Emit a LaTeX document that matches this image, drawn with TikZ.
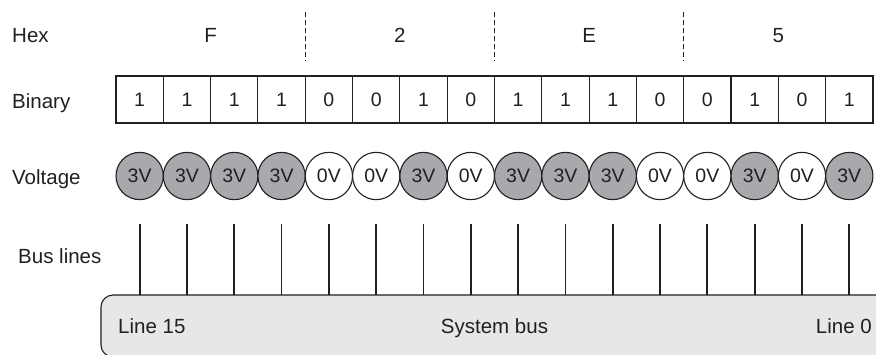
\documentclass[tikz,border=0pt]{standalone}
\usepackage{fontspec}
\setmainfont{Liberation Sans}
\definecolor{ink}{HTML}{231F20}
\definecolor{highgrey}{HTML}{A7A9AC}
\definecolor{busgrey}{HTML}{E6E7E8}
\colorlet{level1}{highgrey}
\colorlet{level0}{white}
\begin{document}
\begin{tikzpicture}[x=1pt,y=-1pt,
  lbl/.style={font=\fontsize{20.5}{24}\selectfont, text=ink, inner sep=0pt},
  cell/.style={draw=ink, line width=1.1pt, minimum width=47.31pt, minimum height=47pt,
    inner sep=0pt, font=\fontsize{19.5}{23}\selectfont, text=ink},
  volt/.style={circle, draw=ink, line width=1.1pt, minimum size=47.3pt, inner sep=0pt,
    font=\fontsize{19.5}{23}\selectfont, text=ink},
  busline/.style={draw=ink, line width=1.8pt},
  divider/.style={draw=ink, line width=1pt, dash pattern=on 5pt off 3pt},
  busbox/.style={fill=busgrey, draw=ink, line width=1.1pt, rounded corners=12pt}
]
\clip (0,0) rectangle (876,354);

% row labels
\node[lbl, anchor=base west] (hex) at (12,42) {Hex};
\node[lbl, anchor=base west] (bin) at (12,108) {Binary};
\node[lbl, anchor=base west] (vol) at (12,184) {Voltage};
\node[lbl, anchor=base west] (bus) at (18,263) {Bus lines};

% hex digits, one per group of four bits
\foreach \h [count=\g from 0] in {F,2,E,5}
  \node[lbl, anchor=base] (h\g) at ({116+47.31*(4*\g+2)},42) {\h};

% dashed dividers between the nibbles
\foreach \g in {1,2,3} {
  \coordinate (dtop\g) at ({116+47.31*4*\g},12);
  \coordinate (dbot\g) at ({116+47.31*4*\g},61);
  \draw[divider] (dtop\g) -- (dbot\g);
}

% system bus
\path[busbox] (900,295) -- (101,295) -- (101,357) -- (900,357) -- cycle;
\node[lbl, anchor=base west] (l15) at (118,333) {Line 15};
\node[lbl, anchor=base] (sys) at (494.5,333) {System bus};
\node[lbl, anchor=base east] (l0) at (872,333) {Line 0};

% bits, voltages and bus lines
\foreach \b/\v [count=\i from 0] in
  {1/3,1/3,1/3,1/3,0/0,0/0,1/3,0/0,1/3,1/3,1/3,0/0,0/0,1/3,0/0,1/3} {
  \node[cell] (b\i) at ({116+47.31*(\i+0.5)},99.5) {\b};
  \node[volt, fill=level\b] (v\i) at ({116+47.31*(\i+0.5)},176) {\v V};
  \coordinate (top\i) at ({116+47.31*(\i+0.5)},224);
  \coordinate (foot\i) at ({116+47.31*(\i+0.5)},295);
  \draw[busline] (top\i) -- (foot\i);
}
\end{tikzpicture}
\end{document}
